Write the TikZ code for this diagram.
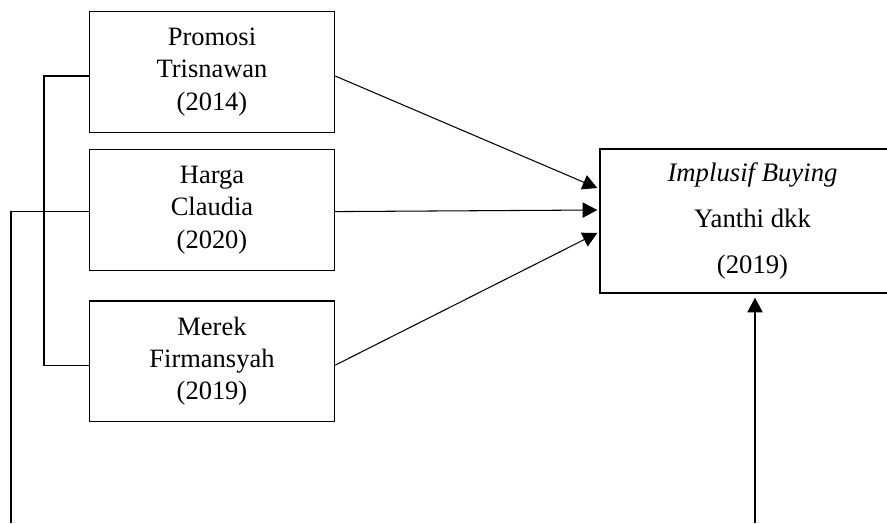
\documentclass[tikz,border=0pt]{standalone}
\usepackage{fontspec}
\setmainfont{Liberation Serif}
\usetikzlibrary{calc,positioning,arrows.meta}

\tikzset{
  varbox/.style={draw, line width=1.2pt, align=center,
    minimum width=7.35cm, minimum height=3.62cm, inner sep=0pt,
    font=\fontsize{22.6}{27.5}\selectfont},
  link/.style={line width=0.9pt},
  flow/.style={line width=0.9pt, -{Triangle[length=12.5pt,width=13pt]}}
}

\begin{document}
\begin{tikzpicture}[x=0.03cm, y=-0.03cm]
  \useasboundingbox (0,0) rectangle (887,523);

  % Independent variables
  \node[varbox] (promosi) at (212,72) {Promosi\\Trisnawan\\(2014)};
  \node[varbox, below=0.48cm of promosi] (harga) {Harga\\Claudia\\(2020)};
  \node[varbox, below=0.87cm of harga] (merek) {Merek\\Firmansyah\\(2019)};

  % Dependent variable (cut at the right edge)
  \node[varbox, minimum width=9.15cm, minimum height=4.32cm,
    font=\fontsize{22.8}{39}\selectfont] (impulsif) at (752.5,221)
    {\textit{Implusif Buying}\\Yanthi dkk\\(2019)};

  % Connector ends on the boxes
  \coordinate (promosiE) at ($(promosi.east)+(0,4)$);
  \coordinate (hargaE) at ($(harga.east)+(0,1.5)$);
  \coordinate (merekE) at ($(merek.east)+(0,4)$);
  \coordinate (promosiW) at ($(promosi.west)+(0,4)$);
  \coordinate (hargaW) at ($(harga.west)+(0,1.5)$);
  \coordinate (merekW) at ($(merek.west)+(0,4)$);
  \coordinate (inA) at ($(impulsif.west)+(-2,-33)$);
  \coordinate (inB) at ($(impulsif.west)+(-2,-11)$);
  \coordinate (inC) at ($(impulsif.west)+(-2,12)$);

  % Arrows into the target box
  \draw[flow] (promosiE) -- (inA);
  \draw[flow] (hargaE) -- (inB);
  \draw[flow] (merekE) -- (inC);

  % Bracket joining Promosi and Merek
  \coordinate (brk) at (44,0);
  \draw[link] (promosiW) -- (promosiW -| brk) -- (merekW -| brk) -- (merekW);

  % Line leaving Harga to the bottom edge
  \coordinate (hargaEnd) at (11,523);
  \draw[link] (hargaW) -| (hargaEnd);

  % Arrow coming up into the target box
  \coordinate (upStart) at (755,523);
  \coordinate (upEnd) at ($(upStart |- impulsif.south)+(0,4)$);
  \draw[flow] (upStart) -- (upEnd);
\end{tikzpicture}
\end{document}
